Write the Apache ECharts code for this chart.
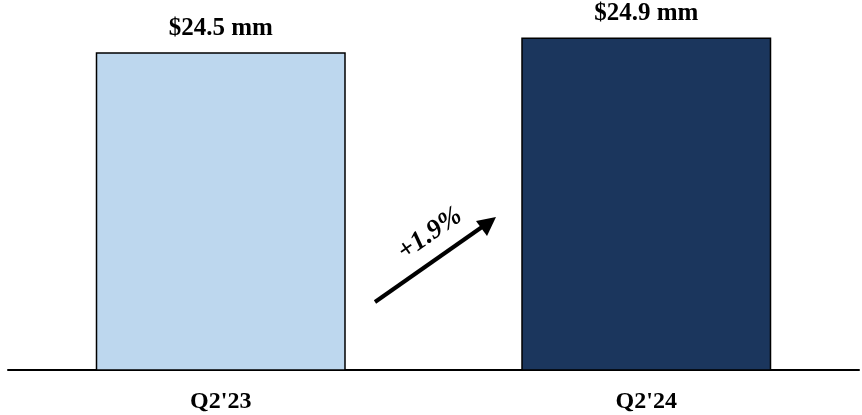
<!DOCTYPE html>
<html>
<head>
<meta charset="utf-8">
<script src="https://cdn.jsdelivr.net/npm/echarts@6/dist/echarts.min.js"></script>
<style>
html, body { margin: 0; padding: 0; background: #fff; }
#chart { width: 862px; height: 415px; }
</style>
</head>
<body>
<div id="chart"></div>
<script>
// data
var categories = ["Q2'23", "Q2'24"];
var values = [24.5, 24.9];
var valueLabels = ['$24.5 mm', '$24.9 mm'];
var barColors = ['#BDD7EE', '#1B365D'];
var growthText = '+1.9%';

var chart = echarts.init(document.getElementById('chart'));

var option = {
    backgroundColor: '#ffffff',
    animation: false,
    grid: { left: 8, right: 3, top: 15, bottom: 45 },
    xAxis: {
        type: 'category',
        data: categories,
        axisLine: { lineStyle: { color: '#000', width: 2 } },
        axisTick: { show: false },
        axisLabel: {
            margin: 20,
            fontFamily: 'Liberation Serif',
            fontWeight: 'bold',
            fontSize: 24,
            color: '#000'
        }
    },
    yAxis: {
        type: 'value',
        min: 16,
        max: 25.5,
        show: false,
        splitLine: { show: false }
    },
    series: [{
        type: 'bar',
        barWidth: 250,
        data: values.map(function (v, i) {
            return {
                value: v,
                itemStyle: { color: barColors[i], borderColor: '#000', borderWidth: 1.5 },
                label: { formatter: valueLabels[i] }
            };
        }),
        label: {
            show: true,
            position: 'top',
            distance: 11,
            fontFamily: 'Liberation Serif',
            fontWeight: 'bold',
            fontSize: 25,
            color: '#000'
        }
    }],
    // growth arrow annotation
    graphic: [
        {
            type: 'line',
            shape: { x1: 375, y1: 302, x2: 482, y2: 227 },
            style: { stroke: '#000', lineWidth: 4 }
        },
        {
            type: 'polygon',
            shape: { points: [[496, 217], [476, 221], [487, 236]] },
            style: { fill: '#000' }
        },
        {
            type: 'text',
            x: 430,
            y: 234,
            rotation: 35 * Math.PI / 180,
            style: {
                text: growthText,
                fontFamily: 'Liberation Serif',
                fontWeight: 'bold',
                fontStyle: 'italic',
                fontSize: 27,
                fill: '#000',
                align: 'center',
                verticalAlign: 'middle'
            }
        }
    ]
};

chart.setOption(option);
</script>
</body>
</html>
